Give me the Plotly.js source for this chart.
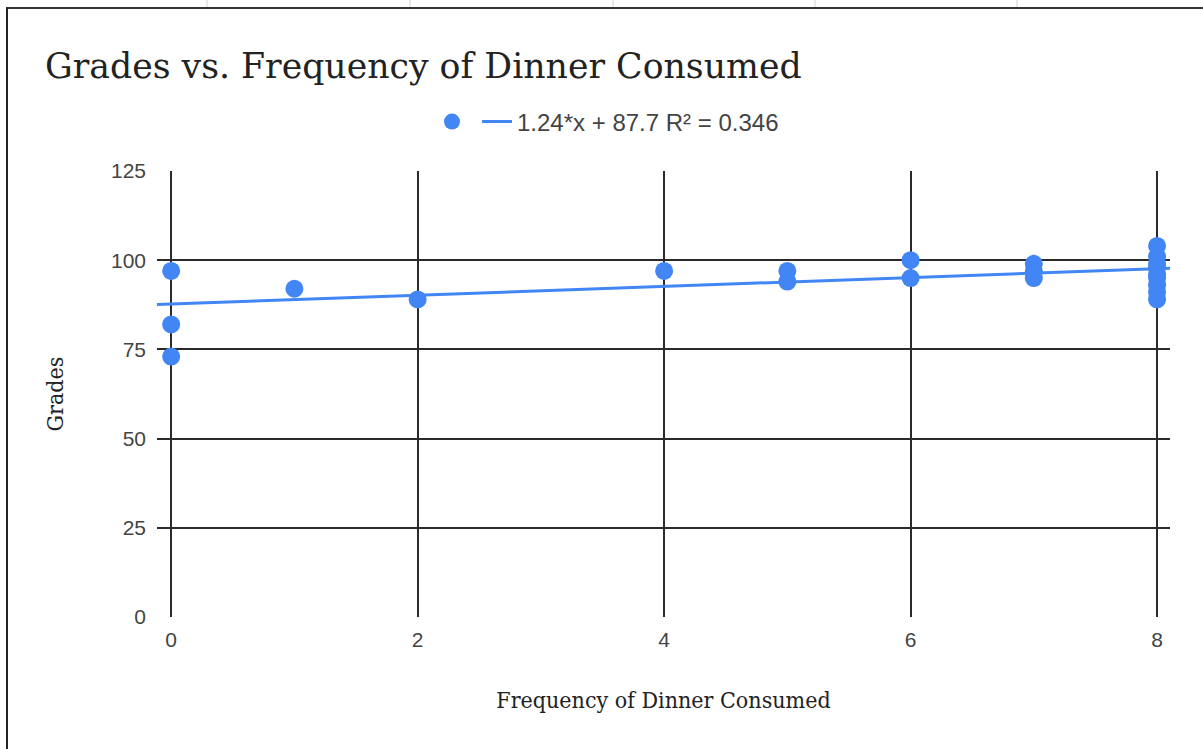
<!DOCTYPE html>
<html>
<head>
<meta charset="utf-8">
<script src="https://cdn.plot.ly/plotly-3.0.1.min.js"></script>
<style>
  html, body { margin: 0; padding: 0; background: #fff; }
  #chart { width: 1203px; height: 749px; }
</style>
</head>
<body>
<div id="chart"></div>
<script>
// ---- data ----
const dinnerFreq = [0, 0, 0, 1, 2, 4, 5, 5, 6, 6, 7, 7, 7, 8, 8, 8, 8, 8, 8, 8, 8, 8];
const grades     = [97, 82, 73, 92, 89, 97, 97, 94, 100, 95, 99, 97, 95, 104, 101, 99, 98, 96, 95, 93, 91, 89];
const trendSlope = 1.24;
const trendIntercept = 87.7;
const trendR2 = 0.346;
const trendX = [-0.115, 8.105];
const xTicks = [0, 2, 4, 6, 8];
const yTicks = [0, 25, 50, 75, 100, 125];
const chartTitle = 'Grades vs. Frequency of Dinner Consumed';
const xTitle = 'Frequency of Dinner Consumed';
const yTitle = 'Grades';

const blue = '#4285F4';
const trendY = trendX.map(x => trendSlope * x + trendIntercept);

const W = 1203, H = 749;
const M = { l: 157, r: 33, t: 171, b: 132 };
const pw = W - M.l - M.r, ph = H - M.t - M.b;
const px2paperX = p => (p - M.l) / pw;
const px2paperY = p => 1 - (p - M.t) / ph;

const traces = [
  {
    type: 'scatter', mode: 'markers',
    x: dinnerFreq, y: grades, name: '',
    marker: { color: blue, size: 18 },
    hoverinfo: 'x+y'
  },
  {
    type: 'scatter', mode: 'lines',
    x: trendX, y: trendY,
    name: trendSlope + '*x + ' + trendIntercept + ' R² = ' + trendR2,
    line: { color: blue, width: 3 },
    hoverinfo: 'skip'
  }
];

// frame of the screenshot and spreadsheet column lines above it
const shapes = [
  { type: 'line', xref: 'paper', yref: 'paper', x0: px2paperX(6), x1: px2paperX(1203), y0: px2paperY(8), y1: px2paperY(8), line: { color: '#333', width: 2 } },
  { type: 'line', xref: 'paper', yref: 'paper', x0: px2paperX(7), x1: px2paperX(7), y0: px2paperY(8), y1: px2paperY(749), line: { color: '#222', width: 2 } }
];
[207, 410, 613, 815, 1017].forEach(px => shapes.push({
  type: 'line', xref: 'paper', yref: 'paper', x0: px2paperX(px), x1: px2paperX(px), y0: px2paperY(0), y1: px2paperY(7),
  line: { color: '#d0d0d0', width: 1 }
}));

const axisTitleFont = { family: 'DejaVu Serif Condensed, DejaVu Serif, serif', size: 23, color: '#222' };

const layout = {
  width: W, height: H,
  margin: M,
  paper_bgcolor: '#fff', plot_bgcolor: '#fff',
  showlegend: true,
  title: {
    text: chartTitle,
    font: { family: 'DejaVu Serif, Liberation Serif, serif', size: 34.7, color: '#222' },
    x: 45 / W, xanchor: 'left', xref: 'container',
    y: 1 - 66 / H, yanchor: 'middle', yref: 'container'
  },
  legend: {
    orientation: 'h',
    x: 608 / W, xanchor: 'center', xref: 'container',
    y: 1 - 122 / H, yanchor: 'middle', yref: 'container',
    font: { family: 'Arial, Liberation Sans, sans-serif', size: 24, color: '#444' },
    itemsizing: 'trace'
  },
  xaxis: {
    range: trendX, tickvals: xTicks, ticktext: xTicks.map(String),
    showgrid: true, gridcolor: '#2a2a2a', gridwidth: 1.7,
    zeroline: false, showline: false, ticks: '',
    ticklabelstandoff: 8,
    tickfont: { family: 'Arial, Liberation Sans, sans-serif', size: 21, color: '#444' },
    title: { text: xTitle, standoff: 41, font: axisTitleFont },
    automargin: false
  },
  yaxis: {
    range: [0, 125], tickvals: yTicks, ticktext: yTicks.map(String),
    showgrid: true, gridcolor: '#2a2a2a', gridwidth: 1.7,
    zeroline: false, showline: false, ticks: '',
    ticklabelstandoff: 10,
    tickfont: { family: 'Arial, Liberation Sans, sans-serif', size: 21, color: '#444' },
    title: { text: yTitle + '\u00a0\u00a0\u00a0\u00a0', standoff: 40, font: axisTitleFont },
    automargin: false
  },
  shapes: shapes
};

Plotly.newPlot('chart', traces, layout, { displayModeBar: false, responsive: false });
</script>
</body>
</html>
